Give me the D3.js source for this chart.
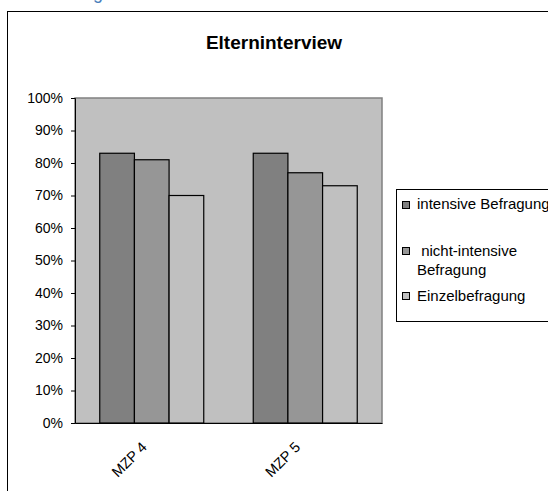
<!DOCTYPE html>
<html>
<head>
<meta charset="utf-8">
<script src="https://cdn.jsdelivr.net/npm/d3@7"></script>
<style>
  body { margin: 0; background: #fff; }
  text { font-family: "Liberation Sans", Arial, sans-serif; }
</style>
</head>
<body>
<svg id="chart" width="548" height="491"></svg>
<script>
const categories = ["MZP 4", "MZP 5"];
const seriesNames = ["intensive Befragung", "nicht-intensive Befragung", "Einzelbefragung"];
const intensiv = [0.83, 0.83];
const nichtIntensiv = [0.81, 0.77];
const einzel = [0.70, 0.73];
const yTicks = [0, 0.1, 0.2, 0.3, 0.4, 0.5, 0.6, 0.7, 0.8, 0.9, 1.0];
const barColors = ["#808080", "#969696", "#c0c0c0"];

const svg = d3.select("#chart");

// bottom of a blue glyph from page text above the chart
svg.append("text")
    .attr("x", 93).attr("y", -1.5)
    .attr("font-size", 18)
    .attr("fill", "#4a7ebb")
    .text("g");

// outer chart frame (runs past the window on right and bottom)
svg.append("rect")
    .attr("x", 7.5).attr("y", 11.5)
    .attr("width", 600).attr("height", 520)
    .attr("fill", "#fff")
    .attr("stroke", "#000");

svg.append("text")
    .attr("x", 274).attr("y", 49)
    .attr("text-anchor", "middle")
    .attr("font-size", 19)
    .attr("font-weight", "bold")
    .text("Elterninterview");

const plot = {left: 75, right: 382, top: 98, bottom: 423};

const y = d3.scaleLinear().domain([0, 1]).range([plot.bottom, plot.top]);
const x0 = d3.scaleBand().domain(categories)
    .range([plot.left, plot.right])
    .paddingInner(0.3225).paddingOuter(0.16125);
const x1 = d3.scaleBand().domain(d3.range(seriesNames.length))
    .range([0, x0.bandwidth()]);

svg.append("rect")
    .attr("x", plot.left).attr("y", plot.top)
    .attr("width", plot.right - plot.left)
    .attr("height", plot.bottom - plot.top)
    .attr("fill", "#c0c0c0")
    .attr("stroke", "#808080")
    .attr("stroke-width", 1.5);

const rows = categories.map((c, i) => ({cat: c, vals: [intensiv[i], nichtIntensiv[i], einzel[i]]}));

svg.append("g").selectAll("g")
    .data(rows)
    .join("g")
    .attr("transform", d => `translate(${x0(d.cat)},0)`)
    .selectAll("rect")
    .data(d => d.vals.map((v, k) => ({k, v})))
    .join("rect")
    .attr("x", d => x1(d.k))
    .attr("y", d => y(d.v))
    .attr("width", x1.bandwidth())
    .attr("height", d => y(0) - y(d.v))
    .attr("fill", d => barColors[d.k])
    .attr("stroke", "#000")
    .attr("stroke-width", 1.2);

// y axis
const yAxis = svg.append("g")
    .attr("transform", `translate(${plot.left},0)`)
    .call(d3.axisLeft(y).tickValues(yTicks).tickFormat(d3.format(".0%")).tickSize(4).tickPadding(8));
yAxis.select(".domain").attr("stroke", "#000");
yAxis.selectAll("text").attr("font-size", 14).attr("fill", "#000")
    .attr("font-family", "'Liberation Sans', Arial, sans-serif");

// x axis
const xAxis = svg.append("g")
    .attr("transform", `translate(0,${plot.bottom})`)
    .call(d3.axisBottom(x0).tickSize(0).tickSizeOuter(0));
xAxis.select(".domain").attr("stroke", "#000");
xAxis.selectAll("text")
    .attr("font-size", 14.5)
    .attr("fill", "#000")
    .attr("font-family", "'Liberation Sans', Arial, sans-serif")
    .attr("text-anchor", "end")
    .attr("y", 0)
    .attr("dy", 0)
    .attr("transform", "translate(-4,25) rotate(-45)");

// legend
const legend = svg.append("g");
legend.append("rect")
    .attr("x", 396.5).attr("y", 189.5)
    .attr("width", 200).attr("height", 132)
    .attr("fill", "#fff")
    .attr("stroke", "#000");

const legendRows = [
    {lines: ["intensive Befragung"], my: 205, ty: [209]},
    {lines: [" nicht-intensive", "Befragung"], my: 251, ty: [256, 275]},
    {lines: ["Einzelbefragung"], my: 296, ty: [301]}
];
legendRows.forEach((r, i) => {
    legend.append("rect")
        .attr("x", 402.5).attr("y", r.my - 3.5)
        .attr("width", 7).attr("height", 7)
        .attr("fill", barColors[i])
        .attr("stroke", "#000");
    r.lines.forEach((t, j) => {
        legend.append("text")
            .attr("x", 417).attr("y", r.ty[j])
            .attr("font-size", 15)
            .attr("xml:space", "preserve")
            .style("white-space", "pre")
            .text(t);
    });
});
</script>
</body>
</html>
